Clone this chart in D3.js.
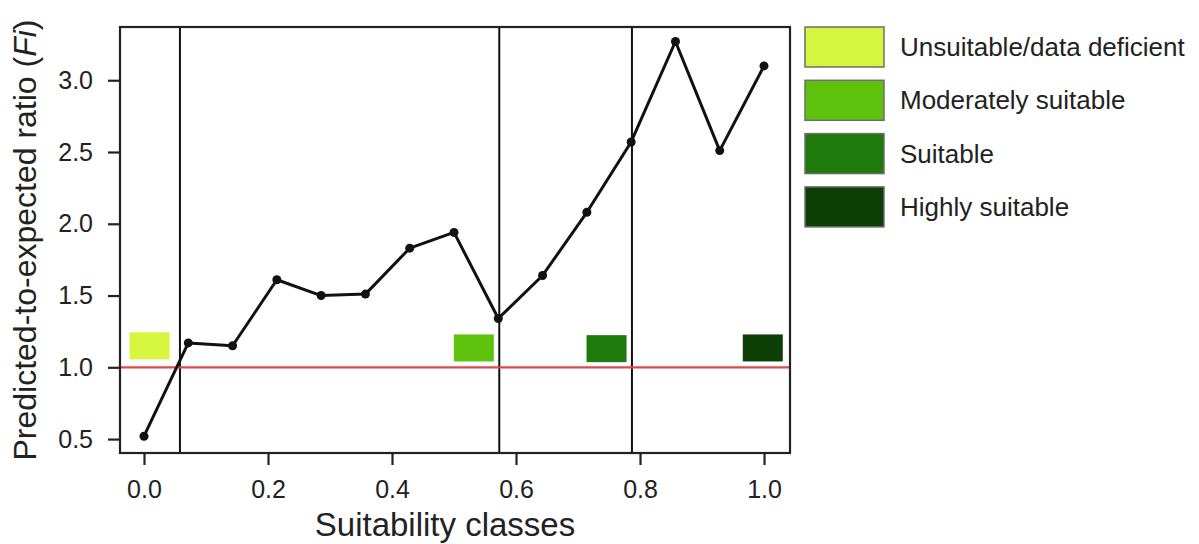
<!DOCTYPE html>
<html>
<head>
<meta charset="UTF-8">
<title>Predicted-to-expected ratio</title>
<script src="https://d3js.org/d3.v7.min.js"></script>
<style>
  body { margin: 0; background: #fff; }
  svg text { font-family: "Liberation Sans", Arial, sans-serif; fill: #222; }
</style>
</head>
<body>
<svg width="1199" height="544"></svg>
<script>
// suitability class midpoints (0..1, 15 bins) and their Fi ratio
const classX = d3.range(15).map(i => i / 14);
const fiValues = [0.52, 1.17, 1.15, 1.61, 1.50, 1.51, 1.83, 1.94, 1.34, 1.64, 2.08, 2.57, 3.27, 2.51, 3.10];

// thresholds separating the four suitability classes
const thresholds = [0.058, 0.573, 0.787];

const classNames = ["Unsuitable/data deficient", "Moderately suitable", "Suitable", "Highly suitable"];
const classColors = ["#d6f53e", "#5ec20c", "#1d7a0b", "#0c3e06"];
// where the little class markers sit inside the plot (data units)
const markerX = [0.009, 0.532, 0.746, 0.998];
const markerY = [1.15, 1.135, 1.13, 1.135];

const yTicks = [0.5, 1.0, 1.5, 2.0, 2.5, 3.0];
const xTicks = [0.0, 0.2, 0.4, 0.6, 0.8, 1.0];

const svg = d3.select("svg");
const plot = { left: 120, right: 790, top: 27, bottom: 453 };

const x = d3.scaleLinear().domain([-0.0387, 1.0419]).range([plot.left, plot.right]);
const y = d3.scaleLinear().domain([0.403, 3.371]).range([plot.bottom, plot.top]);

// axes
const yAxis = svg.append("g")
    .attr("transform", `translate(${plot.left},0)`)
    .call(d3.axisLeft(y).tickValues(yTicks).tickFormat(d3.format(".1f")).tickSize(12).tickPadding(15));
const xAxis = svg.append("g")
    .attr("transform", `translate(0,${plot.bottom})`)
    .call(d3.axisBottom(x).tickValues(xTicks).tickFormat(d3.format(".1f")).tickSize(12).tickPadding(15));

[yAxis, xAxis].forEach(a => {
    a.select(".domain").remove();
    a.selectAll(".tick line").attr("stroke", "#222").attr("stroke-width", 2.2);
    a.selectAll(".tick text").style("font-size", "25px").style("fill", "#222");
});

// class boundaries
svg.selectAll(".thresh")
    .data(thresholds)
    .join("line")
    .attr("class", "thresh")
    .attr("x1", d => x(d)).attr("x2", d => x(d))
    .attr("y1", plot.top).attr("y2", plot.bottom)
    .attr("stroke", "#111").attr("stroke-width", 2);

// Fi = 1 reference
svg.append("line")
    .attr("x1", plot.left).attr("x2", plot.right)
    .attr("y1", y(1)).attr("y2", y(1))
    .attr("stroke", "#e04848").attr("stroke-width", 2.2);

// class markers
svg.selectAll(".marker")
    .data(classColors)
    .join("rect")
    .attr("class", "marker")
    .attr("x", (d, i) => x(markerX[i]) - 20)
    .attr("y", (d, i) => y(markerY[i]) - 13.5)
    .attr("width", 40).attr("height", 27)
    .attr("fill", d => d);

// line + points
const pts = classX.map((c, i) => [c, fiValues[i]]);
svg.append("path")
    .datum(pts)
    .attr("fill", "none")
    .attr("stroke", "#111")
    .attr("stroke-width", 3)
    .attr("stroke-linejoin", "round")
    .attr("d", d3.line().x(d => x(d[0])).y(d => y(d[1])));

svg.selectAll(".pt")
    .data(pts)
    .join("circle")
    .attr("class", "pt")
    .attr("cx", d => x(d[0])).attr("cy", d => y(d[1]))
    .attr("r", 4.5).attr("fill", "#111");

// frame
svg.append("rect")
    .attr("x", plot.left).attr("y", plot.top)
    .attr("width", plot.right - plot.left).attr("height", plot.bottom - plot.top)
    .attr("fill", "none").attr("stroke", "#222").attr("stroke-width", 2.2);

// axis titles
svg.append("text")
    .attr("x", 445).attr("y", 536)
    .attr("text-anchor", "middle")
    .style("font-size", "33px")
    .text("Suitability classes");

const yt = svg.append("text")
    .attr("transform", "translate(36,240) rotate(-90)")
    .attr("text-anchor", "middle")
    .style("font-size", "32px");
yt.append("tspan").text("Predicted-to-expected ratio (");
yt.append("tspan").style("font-style", "italic").text("Fi");
yt.append("tspan").text(")");

// legend
const legend = svg.append("g").attr("transform", "translate(805,27)");
const item = legend.selectAll("g")
    .data(classNames)
    .join("g")
    .attr("transform", (d, i) => `translate(0,${i * 53.3})`);
item.append("rect")
    .attr("width", 79).attr("height", 40)
    .attr("fill", (d, i) => classColors[i])
    .attr("stroke", "#6e6e6e").attr("stroke-width", 1.5);
item.append("text")
    .attr("x", 95).attr("y", 29)
    .style("font-size", "26px")
    .text(d => d);
</script>
</body>
</html>
